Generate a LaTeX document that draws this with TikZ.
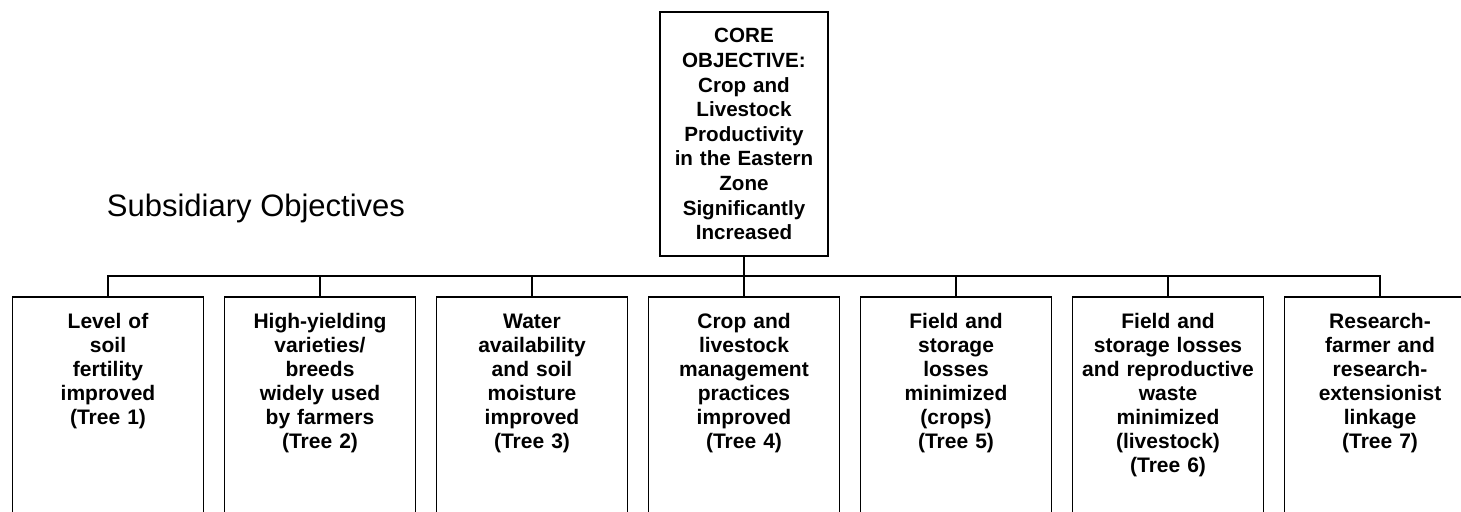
\documentclass[tikz,border=0pt]{standalone}
\usepackage{fontspec}
\setmainfont{Liberation Sans}
\usetikzlibrary{positioning}

\begin{document}
\begin{tikzpicture}[
		x=0.5pt, y=-0.5pt,
		node distance=10.5pt,
		line width=0.6pt,
		core/.style={draw, outer sep=0pt, text width=84pt, inner xsep=0pt, inner ysep=5.5pt, align=center, text height=10pt, text depth=101pt, font=\bfseries\fontsize{10.3}{12.3}\selectfont},
		subobj/.style={draw, outer sep=0pt, text width=95.5pt, inner xsep=0pt, inner ysep=6pt, align=center, text height=10pt, text depth=100pt, font=\bfseries\fontsize{10.5}{11.95}\selectfont},
	]
		\useasboundingbox (0,0) rectangle (1461,512);
		\clip (0,0) rectangle (1461,512);

		\node (core) at (744,12) [core, anchor=north] {CORE\\OBJECTIVE:\\Crop and\\Livestock\\Productivity\\in the Eastern\\Zone\\Significantly\\Increased};
		\node (sub) at (256,217) [anchor=base, font=\fontsize{15.5}{18}\selectfont] {Subsidiary Objectives};

		\node (soil) at (108,297) [subobj, anchor=north] {Level of\\soil\\fertility\\improved\\(Tree 1)};
		\node (hyv) [subobj, right=of soil] {High-yielding\\varieties/\\breeds\\widely used\\by farmers\\(Tree 2)};
		\node (water) [subobj, right=of hyv] {Water\\availability\\and soil\\moisture\\improved\\(Tree 3)};
		\node (mgmt) [subobj, right=of water] {Crop and\\livestock\\management\\practices\\improved\\(Tree 4)};
		\node (crop) [subobj, right=of mgmt] {Field and\\storage\\losses\\minimized\\(crops)\\(Tree 5)};
		\node (live) [subobj, right=of crop] {Field and\\storage losses\\and reproductive\\waste\\minimized\\(livestock)\\(Tree 6)};
		\node (link) [subobj, right=of live] {Research-\\farmer and\\research-\\extensionist\\linkage\\(Tree 7)};

		\coordinate (bus) at (0,276);
		\draw (core.south) -- (core.south |- bus) -| (soil.north);
		\draw (core.south) -- (core.south |- bus) -| (hyv.north);
		\draw (core.south) -- (core.south |- bus) -| (water.north);
		\draw (core.south) -- (mgmt.north);
		\draw (core.south) -- (core.south |- bus) -| (crop.north);
		\draw (core.south) -- (core.south |- bus) -| (live.north);
		\draw (core.south) -- (core.south |- bus) -| (link.north);
	\end{tikzpicture}
\end{document}
